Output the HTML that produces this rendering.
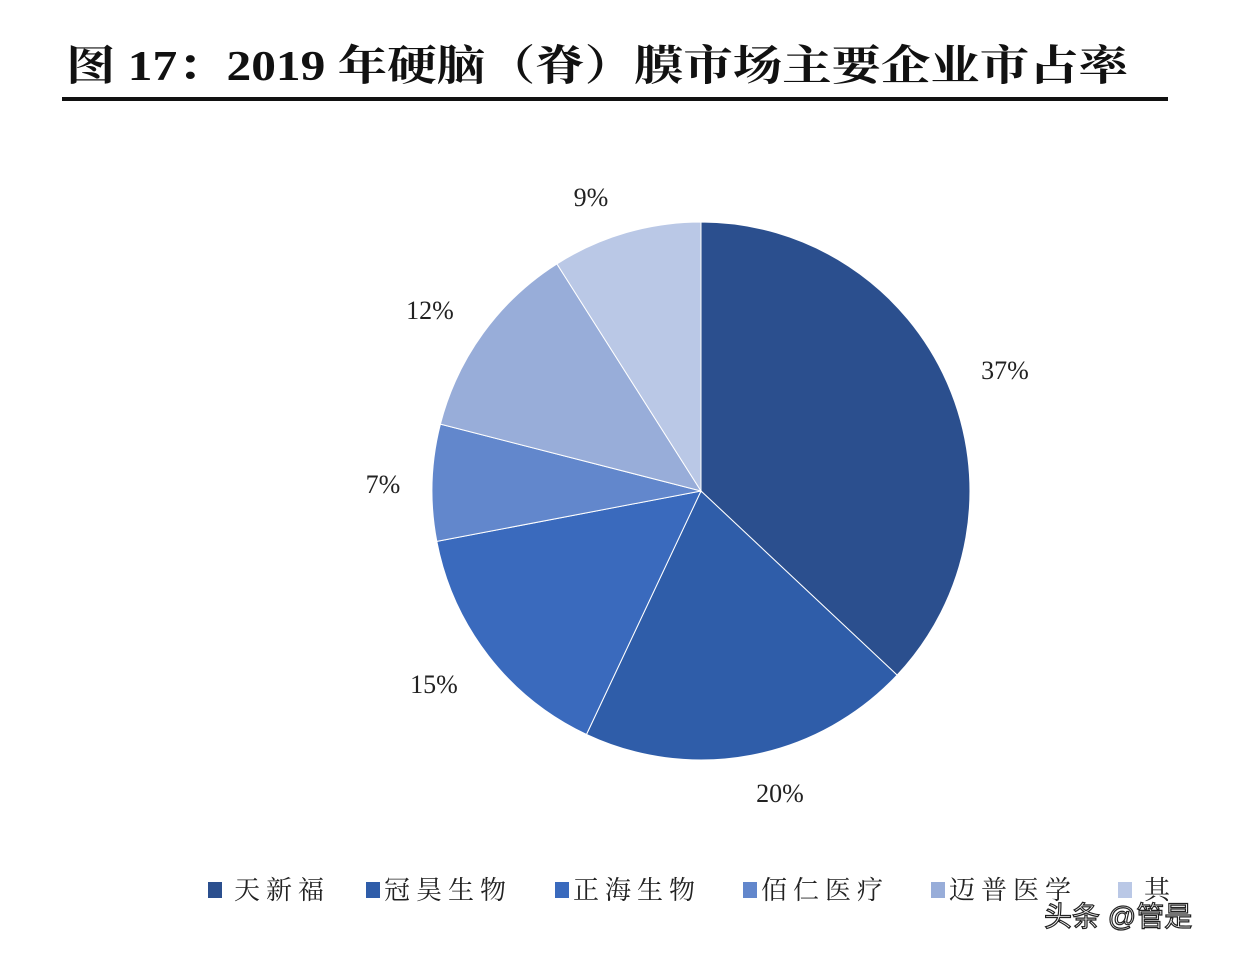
<!DOCTYPE html>
<html><head><meta charset="utf-8"><style>
html,body{margin:0;padding:0;background:#fff;width:1236px;height:958px;overflow:hidden}
</style></head><body>
<svg width="1236" height="958" viewBox="0 0 1236 958" xmlns="http://www.w3.org/2000/svg">
<text x="66" y="80" font-family="'Liberation Serif','Noto Serif CJK SC',serif" font-weight="bold" font-size="42" fill="#111" textLength="1062" lengthAdjust="spacingAndGlyphs">图  17：2019 年硬脑（脊）膜市场主要企业市占率</text>
<rect x="62" y="97" width="1106" height="4" fill="#111"/>
<g stroke="#fff" stroke-width="1">
<path d="M701,491 L701,222 A269,269 0 0 1 897.1,675.1 Z" fill="#2b4f8e"/>
<path d="M701,491 L897.1,675.1 A269,269 0 0 1 586.5,734.4 Z" fill="#2f5da9"/>
<path d="M701,491 L586.5,734.4 A269,269 0 0 1 436.8,541.4 Z" fill="#3a6abd"/>
<path d="M701,491 L436.8,541.4 A269,269 0 0 1 440.4,424.1 Z" fill="#6287cc"/>
<path d="M701,491 L440.4,424.1 A269,269 0 0 1 556.9,263.9 Z" fill="#98add9"/>
<path d="M701,491 L556.9,263.9 A269,269 0 0 1 701,222 Z" fill="#bac8e6"/>
</g>
<g font-family="'Liberation Serif',serif" font-size="26" fill="#222" text-anchor="middle">
<text x="1005" y="379">37%</text>
<text x="780" y="802">20%</text>
<text x="434" y="693">15%</text>
<text x="383" y="493">7%</text>
<text x="430" y="319">12%</text>
<text x="591" y="206">9%</text>
</g>
<g font-family="'Liberation Serif','Noto Serif CJK SC',serif" font-size="26" fill="#222" letter-spacing="6">
<rect x="208" y="882" width="14" height="16" fill="#2b4f8e"/><text x="234" y="899">天新福</text>
<rect x="366" y="882" width="14" height="16" fill="#2f5da9"/><text x="384" y="899">冠昊生物</text>
<rect x="555" y="882" width="14" height="16" fill="#3a6abd"/><text x="573" y="899">正海生物</text>
<rect x="743" y="882" width="14" height="16" fill="#6287cc"/><text x="761" y="899">佰仁医疗</text>
<rect x="931" y="882" width="14" height="16" fill="#98add9"/><text x="949" y="899">迈普医学</text>
<rect x="1118" y="882" width="14" height="16" fill="#bac8e6"/><text x="1144" y="899">其</text>
</g>
<text x="1044" y="926" font-family="'Liberation Sans','Noto Sans CJK SC',sans-serif" font-size="28" fill="#fff" stroke="#222" stroke-width="1.2">头条 @管是</text>
</svg>
</body></html>
